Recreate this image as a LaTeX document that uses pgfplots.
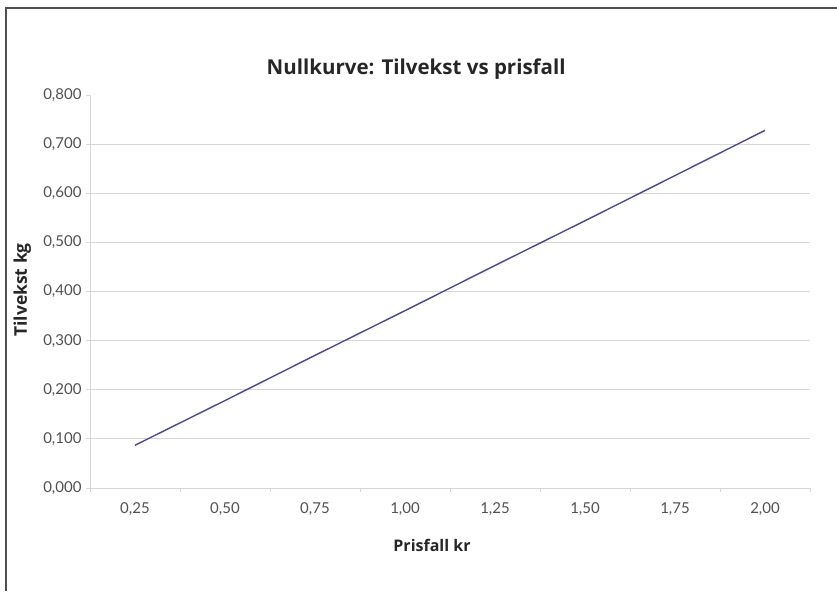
\documentclass[border=0pt]{standalone}
\usepackage{fontspec}
\setmainfont{Lato}
\newfontfamily\labelfont{Open Sans}
\usepackage{pgfplots}
\pgfplotsset{compat=1.18}

\definecolor{linecol}{RGB}{74,72,146}
\definecolor{gridcol}{RGB}{215,215,215}
\definecolor{tickcol}{RGB}{80,80,80}
\definecolor{framecol}{RGB}{80,80,80}

\begin{document}
\begin{tikzpicture}
\useasboundingbox (0pt,0pt) rectangle (837pt,591pt);
% frame of the page: only left and top edges show
\draw[framecol, line width=1.3pt] (6pt,0pt) -- (6pt,583pt) -- (837pt,583pt);

\begin{axis}[%
scale only axis,
width=720pt,
height=393pt,
at={(90pt,103pt)},
anchor=south west,
xmin=0.5, xmax=8.5,
ymin=0, ymax=0.8,
axis x line*=bottom,
axis y line*=left,
axis line style={draw=gridcol, line width=0.6pt},
xtick={1,...,8},
xticklabels={{0,25},{0,50},{0,75},{1,00},{1,25},{1,50},{1,75},{2,00}},
major x tick style={draw=none},
minor xtick={0.5,1.5,...,8.5},
minor x tick style={draw=gridcol, line width=0.8pt},
minor tick length=4pt,
tick align=outside,
ytick={0,0.1,...,0.8},
major y tick style={draw=gridcol, line width=0.8pt},
major tick length=4pt,
extra y ticks={0.1,0.2,0.3,0.4,0.5,0.6,0.7},
extra y tick labels={},
extra y tick style={grid=major, major grid style={draw=gridcol, line width=1pt}},
/pgf/number format/fixed,
/pgf/number format/fixed zerofill,
/pgf/number format/precision=3,
/pgf/number format/use comma,
/pgf/number format/assume math mode=true,
ticklabel style={font=\fontsize{15}{17}\selectfont, text=tickcol},
xticklabel style={yshift=-7pt},
yticklabel style={xshift=-1pt},
title={Nullkurve: Tilvekst vs prisfall},
title style={at={(axis description cs:0.453,1.051)}, anchor=center, font=\labelfont\fontsize{20.5}{23}\selectfont\bfseries, text=black!85},
xlabel={Prisfall kr},
xlabel style={at={(axis description cs:0.475,-0.145)}, anchor=center, font=\labelfont\fontsize{16}{18}\selectfont\bfseries, text=black!85},
ylabel={Tilvekst kg},
ylabel style={at={(axis description cs:-0.094,0.504)}, anchor=center, rotate=0, font=\labelfont\fontsize{17.5}{20}\selectfont\bfseries, text=black!85},
clip=false,
]
\addplot[linecol, line width=1.4pt] coordinates {
(1,0.087) (2,0.178) (3,0.270) (4,0.361) (5,0.453) (6,0.544) (7,0.636) (8,0.728)
};
\end{axis}
\end{tikzpicture}
\end{document}
